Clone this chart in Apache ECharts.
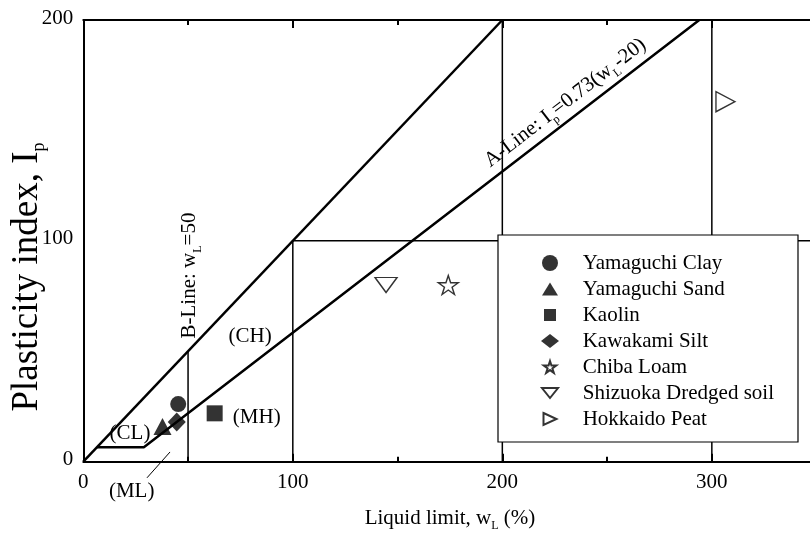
<!DOCTYPE html>
<html>
<head>
<meta charset="utf-8">
<script src="https://cdn.jsdelivr.net/npm/echarts@6/dist/echarts.min.js"></script>
<style>
  html, body { margin: 0; padding: 0; background: #fff; }
  #chart { width: 810px; height: 538px; }
</style>
</head>
<body>
<div id="chart"></div>
<script>
// Soil samples: [liquid limit wL (%), plasticity index Ip]
const yamaguchiClay = [[45.3, 26.1]];
const yamaguchiSand = [[37.8, 15.9]];
const kaolin = [[62.7, 21.9]];
const kawakamiSilt = [[44.6, 18.0]];
const chibaLoam = [[174.2, 80.0]];
const shizuokaDredged = [[144.5, 80.0]];
const hokkaidoPeat = [[306.5, 163.0]];

// Classification boundaries (wL, Ip)
const upperLimitLine = [[0, 0], [200, 200]];          // Ip = wL
const aLine = [[6.5, 6.5], [28.9, 6.5], [294, 200]];  // CL-ML strip + A-line
const bLine = [[50, 0], [50, 50]];
const box100 = [[100, 0], [100, 100], [350, 100]];
const line200 = [[200, 0], [200, 200]];
const line300 = [[300, 0], [300, 200]];
const mlLeader = [[30.4, -7.3], [41.4, 4.4]];

const xTickValues = [0, 100, 200, 300];
const yTickValues = [0, 100, 200];

const FONT = 'Liberation Serif';
const STAR = 'path://M100 0L122.45 69.1L195.1 69.1L136.3 111.8L158.8 180.9L100 138.2L41.2 180.9L63.7 111.8L4.9 69.1L77.55 69.1Z';

// Legend keys drawn inside a fixed 16 px frame (corner points keep the frame size)
const FRAME = 'M0 0L0 0M16 16L16 16';
const KEY_TRI = 'path://' + FRAME + 'M8 1.5L16 14.5L0 14.5Z';
const KEY_RECT = 'path://' + FRAME + 'M2 2L14 2L14 14L2 14Z';
const KEY_DIAMOND = 'path://M0 0L0 0M18 16L18 16M9 1L18 8L9 15L0 8Z';
const KEY_STAR = 'path://' + FRAME + 'M8 2.1L9.46 6.59L14.18 6.59L10.36 9.37L11.82 13.86L8 11.08L4.18 13.86L5.64 9.37L1.82 6.59L6.54 6.59Z';
const KEY_DOWN = 'path://' + FRAME + 'M0 3L16 3L8 13Z';
const KEY_RIGHT = 'path://' + FRAME + 'M1.5 2L14.5 8L1.5 14Z';

const chart = echarts.init(document.getElementById('chart'), null, { renderer: 'canvas' });

function boundary(data, width, clip) {
  return {
    type: 'line', data: data, showSymbol: false, symbol: 'none', silent: true,
    clip: clip !== false, z: 2, animation: false,
    lineStyle: { color: '#000', width: width }
  };
}
const solid = { color: '#000', borderColor: '#000', borderWidth: 0 };
const hollow = { color: '#fff', borderColor: '#000', borderWidth: 1.4 };

function sample(name, data, symbol, size, style, rotate) {
  return {
    name: name, type: 'scatter', data: data, symbol: symbol, symbolSize: size,
    symbolRotate: rotate || 0, symbolKeepAspect: false, itemStyle: style, z: 5, animation: false
  };
}

const axisLineStyle = { color: '#000', width: 2 };

const option = {
  backgroundColor: '#fff',
  animation: false,
  textStyle: { fontFamily: FONT, color: '#000' },
  grid: { left: 83.3, top: 20, width: 733.3, height: 441.7, containLabel: false, outerBoundsMode: 'none' },
  xAxis: [{
    type: 'value', min: 0, max: 350, interval: 100, position: 'bottom',
    axisLine: { show: true, lineStyle: axisLineStyle },
    axisTick: { show: true, inside: true, length: 8, lineStyle: axisLineStyle },
    minorTick: { show: true, splitNumber: 2, length: 5, lineStyle: axisLineStyle },
    splitLine: { show: false },
    axisLabel: {
      fontFamily: FONT, fontSize: 21, color: '#000', margin: 10, lineHeight: 21,
      formatter: v => (xTickValues.indexOf(v) >= 0 ? String(v) : '')
    }
  }, {
    type: 'value', min: 0, max: 350, interval: 100, position: 'top',
    axisLine: { show: true, lineStyle: axisLineStyle },
    axisTick: { show: true, inside: true, length: 8, lineStyle: axisLineStyle },
    minorTick: { show: true, splitNumber: 2, length: 5, lineStyle: axisLineStyle },
    splitLine: { show: false },
    axisLabel: { show: false }
  }],
  yAxis: {
    type: 'value', min: 0, max: 200, interval: 100,
    axisLine: { show: true, lineStyle: axisLineStyle },
    axisTick: { show: false },
    splitLine: { show: false },
    axisLabel: {
      fontFamily: FONT, fontSize: 21, color: '#000', margin: 10,
      verticalAlign: 'bottom', lineHeight: 4,
      formatter: v => (yTickValues.indexOf(v) >= 0 ? String(v) : '')
    }
  },
  legend: {
    orient: 'vertical', left: 498, top: 235,
    padding: [15, 24, 10, 43],
    backgroundColor: '#fff', borderColor: '#000', borderWidth: 1.2, borderRadius: 0,
    itemWidth: 55.4, itemHeight: 16, itemGap: 0,
    symbolKeepAspect: true,
    textStyle: { fontFamily: FONT, fontSize: 21, color: '#000', lineHeight: 26 },
    data: [
      { name: 'Yamaguchi Clay', icon: 'circle' },
      { name: 'Yamaguchi Sand', icon: KEY_TRI },
      { name: 'Kaolin', icon: KEY_RECT },
      { name: 'Kawakami Silt', icon: KEY_DIAMOND },
      { name: 'Chiba Loam', icon: KEY_STAR },
      { name: 'Shizuoka Dredged soil', icon: KEY_DOWN },
      { name: 'Hokkaido Peat', icon: KEY_RIGHT }
    ],
    z: 10
  },
  series: [
    boundary(upperLimitLine, 2.5),
    boundary(aLine, 2.5),
    boundary(bLine, 1.5),
    boundary(box100, 1.5),
    boundary(line200, 1.5),
    boundary(line300, 1.5),
    boundary(mlLeader, 1, false),
    sample('Yamaguchi Clay', yamaguchiClay, 'circle', 16, solid),
    sample('Yamaguchi Sand', yamaguchiSand, 'triangle', [18, 17], solid),
    sample('Kaolin', kaolin, 'rect', 16, solid),
    sample('Kawakami Silt', kawakamiSilt, 'diamond', [18, 19], solid),
    sample('Chiba Loam', chibaLoam, STAR, [20, 19], hollow),
    sample('Shizuoka Dredged soil', shizuokaDredged, 'triangle', [22, 15], hollow, 180),
    sample('Hokkaido Peat', hokkaidoPeat, 'triangle', [20, 19], hollow, -90)
  ]
};
chart.setOption(option);

// Text annotations anchored in data coordinates
function px(p) { return chart.convertToPixel({ xAxisIndex: 0, yAxisIndex: 0 }, p); }
const subStyle = { fontFamily: FONT, fontSize: 12, lineHeight: 12, verticalAlign: 'bottom' };

function label(pos, text, extra) {
  const p = px(pos);
  return Object.assign({
    type: 'text', x: p[0], y: p[1], z: 20, silent: true,
    style: {
      text: text, fontFamily: FONT, fontSize: 21, fill: '#000',
      align: 'center', verticalAlign: 'middle', lineHeight: 28,
      rich: { s: subStyle }
    }
  }, extra || {});
}

const aStart = px(aLine[1]);
const aEnd = px(aLine[2]);
const aAngle = Math.atan2(aStart[1] - aEnd[1], aEnd[0] - aStart[0]);

chart.setOption({
  graphic: [
    label([22.3, 12.9], '(CL)'),
    label([79.6, 56.6], '(CH)'),
    label([82.8, 19.8], '(MH)'),
    label([23.1, -13.6], '(ML)'),
    label([50.9, 84.3], 'B-Line: w{s|L}=50', { rotation: Math.PI / 2 }),
    label([230, 162.5], 'A-Line: I{s|p}=0.73(w{s|L}-20)', { rotation: aAngle }),
    {
      type: 'text', x: 27, y: 277, rotation: Math.PI / 2, z: 20, silent: true,
      style: {
        text: 'Plasticity index, I{s|p}', fontFamily: FONT, fontSize: 37, fill: '#000',
        align: 'center', verticalAlign: 'middle', lineHeight: 42,
        rich: { s: { fontFamily: FONT, fontSize: 18, lineHeight: 18, verticalAlign: 'bottom' } }
      }
    },
    {
      type: 'text', x: 450, y: 518, z: 20, silent: true,
      style: {
        text: 'Liquid limit, w{s|L} (%)', fontFamily: FONT, fontSize: 21, fill: '#000',
        align: 'center', verticalAlign: 'middle', lineHeight: 28,
        rich: { s: subStyle }
      }
    }
  ]
});
</script>
</body>
</html>
